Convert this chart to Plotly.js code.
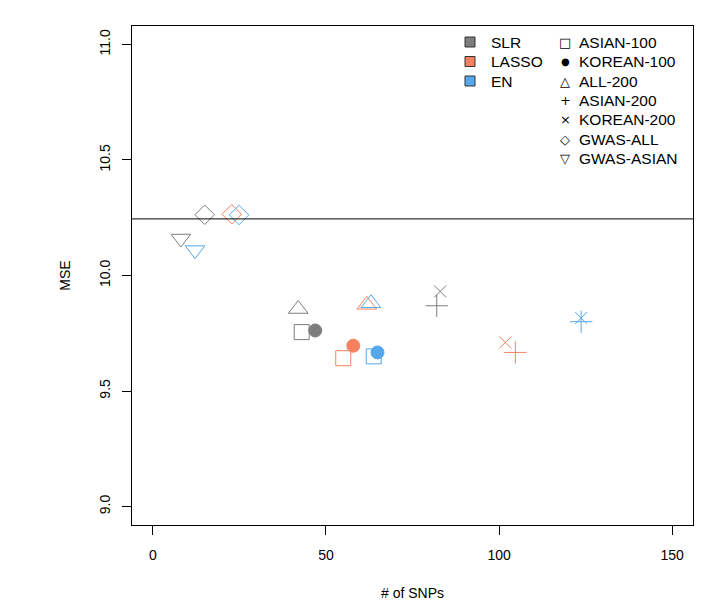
<!DOCTYPE html>
<html>
<head>
<meta charset="utf-8">
<script src="https://cdn.plot.ly/plotly-3.0.1.min.js"></script>
<style>html,body{margin:0;padding:0;background:#fff;}</style>
</head>
<body>
<div id="chart" style="width:726px;height:615px;"></div>
<script>
// ---- data ----
const methods = ["SLR", "LASSO", "EN"];
const methodColors = ["#7d7d7d", "#f7815f", "#55a8ec"];
const snpSets = ["ASIAN-100", "KOREAN-100", "ALL-200", "ASIAN-200", "KOREAN-200", "GWAS-ALL", "GWAS-ASIAN"];
const setSymbols = ["square-open", "circle", "triangle-up-open", "cross-thin-open", "x-thin-open", "diamond-open", "triangle-down-open"];
const setSizes = [15, 13, 17, 16, 12, 15, 17];
const legendGlyphs = ["□", "●", "△", "+", "×", "◇", "▽"];
// number of SNPs per [method][set] (null = not shown)
const nSNPs = [
  [43.0, 46.9, 42.0, 82.0, 83.0, 15.0, 8.1],
  [55.0, 57.9, 61.8, 104.7, 101.8, 22.8, null],
  [63.8, 64.9, 63.0, 123.7, 123.7, 24.9, 12.2]
];
// MSE per [method][set]
const mse = [
  [9.755, 9.762, 9.855, 9.869, 9.931, 10.263, 10.16],
  [9.642, 9.696, 9.873, 9.667, 9.710, 10.265, null],
  [9.650, 9.667, 9.880, 9.800, 9.816, 10.262, 10.11]
];
const baselineMSE = [10.245];
const xTicks = [0, 50, 100, 150];
const yTicks = [9.0, 9.5, 10.0, 10.5, 11.0];
const yTickText = ["9.0", "9.5", "10.0", "10.5", "11.0"];

// ---- traces ----
const traces = [];
for (let m = 0; m < methods.length; m++) {
  for (let s = 0; s < snpSets.length; s++) {
    if (nSNPs[m][s] === null) continue;
    traces.push({
      type: "scatter", mode: "markers",
      x: [nSNPs[m][s]], y: [mse[m][s]],
      name: methods[m] + " " + snpSets[s],
      showlegend: false,
      marker: {
        symbol: setSymbols[s], size: setSizes[s],
        color: methodColors[m],
        line: {color: methodColors[m], width: 1}
      }
    });
  }
}

const FONT = "Liberation Sans, Arial, sans-serif";
const annotations = [];
const shapes = [];
shapes.push({type: "line", xref: "paper", x0: 0, x1: 1, yref: "y", y0: baselineMSE[0], y1: baselineMSE[0],
  line: {color: "#000", width: 1}});

const W = 726, H = 615, ML = 132, MR = 33, MT = 26, MB = 90;
const pw = W - ML - MR, ph = H - MT - MB;
const px = x => (x - ML) / pw;
const py = y => 1 - (y - MT) / ph;
const rowY = [42, 61.5, 81, 100, 119.5, 139, 158.5];
for (let m = 0; m < methods.length; m++) {
  shapes.push({type: "rect", xref: "paper", yref: "paper",
    x0: px(465), x1: px(475), y0: py(rowY[m] + 5), y1: py(rowY[m] - 5),
    fillcolor: methodColors[m], line: {color: "#333", width: 1}});
  annotations.push({xref: "paper", yref: "paper", x: px(489), y: py(rowY[m]),
    xanchor: "left", yanchor: "middle", align: "left", showarrow: false, text: methods[m],
    font: {family: FONT, size: 15.5, color: "#000"}});
}
for (let s = 0; s < snpSets.length; s++) {
  annotations.push({xref: "paper", yref: "paper", x: px(565), y: py(rowY[s]),
    xanchor: "center", yanchor: "middle", showarrow: false, text: legendGlyphs[s],
    font: {family: "DejaVu Sans", size: s === 1 ? 10 : 13, color: "#000"}});
  annotations.push({xref: "paper", yref: "paper", x: px(577), y: py(rowY[s]),
    xanchor: "left", yanchor: "middle", align: "left", showarrow: false, text: snpSets[s],
    font: {family: FONT, size: 15.5, color: "#000"}});
}

const layout = {
  width: W, height: H,
  margin: {l: ML, r: MR, t: MT, b: MB, pad: 0},
  paper_bgcolor: "#fff", plot_bgcolor: "#fff",
  font: {family: FONT, size: 14, color: "#000"},
  xaxis: {
    range: [-6, 156], tickvals: xTicks, ticks: "outside", ticklen: 9, tickcolor: "#000",
    showline: true, mirror: true, linecolor: "#000", linewidth: 1,
    showgrid: false, zeroline: false, ticklabelstandoff: 8,
    tickfont: {family: FONT, size: 14},
    title: {text: "# of SNPs", font: {family: FONT, size: 14}, standoff: 26}
  },
  yaxis: {
    range: [8.92, 11.08], tickvals: yTicks, ticktext: yTickText, tickangle: -90,
    ticks: "outside", ticklen: 9, tickcolor: "#000",
    showline: true, mirror: true, linecolor: "#000", linewidth: 1,
    showgrid: false, zeroline: false, ticklabelstandoff: 6,
    tickfont: {family: FONT, size: 14},
    title: {text: "MSE", font: {family: FONT, size: 14}, standoff: 23}
  },
  shapes: shapes,
  annotations: annotations,
  showlegend: false
};

Plotly.newPlot("chart", traces, layout, {staticPlot: true, displayModeBar: false});
</script>
</body>
</html>
